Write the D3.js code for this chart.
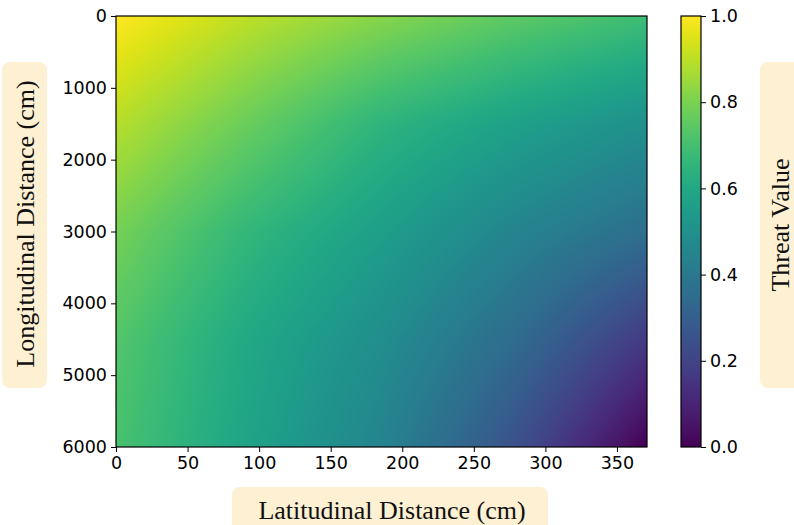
<!DOCTYPE html>
<html>
<head>
<meta charset="utf-8">
<script src="https://cdn.jsdelivr.net/npm/d3@7"></script>
<style>
  html, body { margin: 0; padding: 0; background: #fff; }
  svg { display: block; }
</style>
</head>
<body>
<svg id="chart" width="794" height="525"></svg>
<script>
// ---- data ----
const xGrid = [0, 92.5, 185, 277.5, 370];          // latitudinal distance (cm)
const yGrid = [0, 1500, 3000, 4500, 6000];         // longitudinal distance (cm)
const threatRow0    = [1.00, 0.90, 0.82, 0.75, 0.69];
const threatRow1500 = [0.89, 0.77, 0.65, 0.57, 0.50];
const threatRow3000 = [0.79, 0.66, 0.56, 0.45, 0.36];
const threatRow4500 = [0.73, 0.60, 0.49, 0.35, 0.17];
const threatRow6000 = [0.71, 0.58, 0.45, 0.25, 0.00];
const xTicks = [0, 50, 100, 150, 200, 250, 300, 350];
const yTicks = [0, 1000, 2000, 3000, 4000, 5000, 6000];
const cbTicks = [0.0, 0.2, 0.4, 0.6, 0.8, 1.0];
const xLabel = "Latitudinal Distance (cm)";
const yLabel = "Longitudinal Distance (cm)";
const cbLabel = "Threat Value";

const rows = [threatRow0, threatRow1500, threatRow3000, threatRow4500, threatRow6000];

// ---- layout ----
const plot = {left: 116, right: 647, top: 16, bottom: 447};
const cb = {left: 681, right: 701};
const svg = d3.select("#chart");

const x = d3.scaleLinear().domain([0, 371]).range([plot.left, plot.right]);
const y = d3.scaleLinear().domain([0, 6000]).range([plot.top, plot.bottom]);
const color = d3.scaleSequential(d3.interpolateViridis).domain([0, 1]);

// bilinear lookup on the read grid
function field(xv, yv) {
  const xi = Math.min(xGrid.length - 2, Math.max(0, d3.bisectRight(xGrid, xv) - 1));
  const yi = Math.min(yGrid.length - 2, Math.max(0, d3.bisectRight(yGrid, yv) - 1));
  const tx = Math.max(0, Math.min(1, (xv - xGrid[xi]) / (xGrid[xi + 1] - xGrid[xi])));
  const ty = Math.max(0, Math.min(1, (yv - yGrid[yi]) / (yGrid[yi + 1] - yGrid[yi])));
  const a = rows[yi][xi], b = rows[yi][xi + 1], c = rows[yi + 1][xi], d = rows[yi + 1][xi + 1];
  return (a * (1 - tx) + b * tx) * (1 - ty) + (c * (1 - tx) + d * tx) * ty;
}

// ---- heatmap raster ----
const pw = Math.round(plot.right - plot.left), ph = Math.round(plot.bottom - plot.top);
const canvas = document.createElement("canvas");
canvas.width = pw; canvas.height = ph;
const ctx = canvas.getContext("2d");
const img = ctx.createImageData(pw, ph);
for (let j = 0; j < ph; j++) {
  const yv = y.invert(plot.top + j + 0.5);
  for (let i = 0; i < pw; i++) {
    const xv = x.invert(plot.left + i + 0.5);
    const c = d3.rgb(color(Math.max(0, Math.min(1, field(xv, yv)))));
    const k = (j * pw + i) * 4;
    img.data[k] = c.r; img.data[k + 1] = c.g; img.data[k + 2] = c.b; img.data[k + 3] = 255;
  }
}
ctx.putImageData(img, 0, 0);
svg.append("image")
  .attr("x", plot.left).attr("y", plot.top)
  .attr("width", pw).attr("height", ph)
  .attr("preserveAspectRatio", "none")
  .attr("href", canvas.toDataURL());

svg.append("rect")
  .attr("x", plot.left).attr("y", plot.top)
  .attr("width", pw).attr("height", ph)
  .attr("fill", "none").attr("stroke", "#000").attr("stroke-width", 1.2);

const tickFont = "'DejaVu Sans', sans-serif";
const tickSize = 17.5;

// x axis
const gx = svg.append("g").attr("transform", `translate(0,${plot.bottom})`)
  .call(d3.axisBottom(x).tickValues(xTicks).tickFormat(d3.format("d")).tickSize(5).tickPadding(5));
// y axis
const gy = svg.append("g").attr("transform", `translate(${plot.left},0)`)
  .call(d3.axisLeft(y).tickValues(yTicks).tickFormat(d3.format("d")).tickSize(5).tickPadding(4));
[gx, gy].forEach(g => {
  g.select(".domain").remove();
  g.selectAll("line").attr("stroke", "#000").attr("stroke-width", 1);
  g.selectAll("text").attr("fill", "#000").style("font-family", tickFont).style("font-size", tickSize + "px");
});

// ---- colorbar ----
const defs = svg.append("defs");
const grad = defs.append("linearGradient").attr("id", "cbgrad")
  .attr("x1", 0).attr("y1", 1).attr("x2", 0).attr("y2", 0);
d3.range(0, 1.0001, 0.02).forEach(t => {
  grad.append("stop").attr("offset", t).attr("stop-color", color(t));
});
const cy = d3.scaleLinear().domain([0, 1]).range([plot.bottom, plot.top]);
svg.append("rect")
  .attr("x", cb.left).attr("y", plot.top)
  .attr("width", cb.right - cb.left).attr("height", plot.bottom - plot.top)
  .attr("fill", "url(#cbgrad)").attr("stroke", "#000").attr("stroke-width", 1.2);
const gc = svg.append("g").attr("transform", `translate(${cb.right},0)`)
  .call(d3.axisRight(cy).tickValues(cbTicks).tickFormat(d3.format(".1f")).tickSize(5).tickPadding(4));
gc.select(".domain").remove();
gc.selectAll("line").attr("stroke", "#000");
gc.selectAll("text").attr("fill", "#000").style("font-family", tickFont).style("font-size", tickSize + "px");

// ---- labels with rounded boxes ----
const boxFill = "#fdf0d3";
const labelFont = "'Liberation Serif', 'DejaVu Serif', serif";
const labelSize = 26;

// x label
svg.append("rect").attr("x", 232).attr("y", 487).attr("width", 316).attr("height", 50)
  .attr("rx", 8).attr("fill", boxFill);
svg.append("text").attr("x", 392).attr("y", 510).attr("text-anchor", "middle")
  .attr("dominant-baseline", "central")
  .style("font-family", labelFont).style("font-size", labelSize + "px").attr("fill", "#111")
  .text(xLabel);

// y label
svg.append("rect").attr("x", 2).attr("y", 62).attr("width", 45).attr("height", 326)
  .attr("rx", 8).attr("fill", boxFill);
svg.append("text").attr("transform", "translate(25,224) rotate(-90)")
  .attr("text-anchor", "middle").attr("dominant-baseline", "central")
  .style("font-family", labelFont).style("font-size", labelSize + "px").attr("fill", "#111")
  .text(yLabel);

// colorbar label
svg.append("rect").attr("x", 760).attr("y", 62).attr("width", 60).attr("height", 326)
  .attr("rx", 8).attr("fill", boxFill);
svg.append("text").attr("transform", "translate(780,225) rotate(-90)")
  .attr("text-anchor", "middle").attr("dominant-baseline", "central")
  .style("font-family", labelFont).style("font-size", labelSize + "px").attr("fill", "#111")
  .text(cbLabel);
</script>
</body>
</html>
